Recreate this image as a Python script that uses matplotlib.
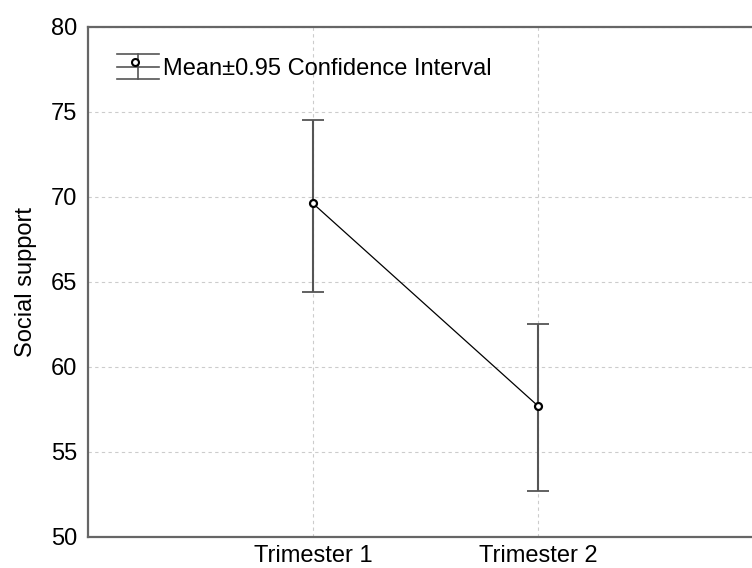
import matplotlib
matplotlib.use('Agg')
import matplotlib.pyplot as plt
from matplotlib.legend_handler import HandlerBase
from matplotlib.lines import Line2D

# Data
groups = ['Trimester 1', 'Trimester 2']
means = [69.6, 57.7]
ci_low = [64.4, 52.7]
ci_high = [74.5, 62.5]

plt.rcParams['font.family'] = ['Liberation Sans', 'DejaVu Sans']

ERR_COLOR = '#555555'
FONT_SIZE = 17


class CIHandler(HandlerBase):
    """Legend key: mean marker with a confidence-interval whisker and caps."""

    def create_artists(self, legend, orig_handle, xdescent, ydescent,
                       width, height, fontsize, trans):
        x0 = -xdescent
        x1 = x0 + width
        xm = (x0 + x1) / 2
        ym = -ydescent + height / 2
        h = height
        arts = [
            Line2D([x0, x1], [ym, ym], color=ERR_COLOR, lw=1.2),
            Line2D([x0, x1], [ym + h / 2] * 2, color=ERR_COLOR, lw=1.2),
            Line2D([x0, x1], [ym - h / 2] * 2, color=ERR_COLOR, lw=1.2),
            Line2D([xm, xm], [ym - h / 2, ym + h / 2], color=ERR_COLOR, lw=1.2),
            Line2D([xm - 2], [ym + 3], marker='o', ms=5, mfc='white',
                   mec='black', mew=1.5, ls='none'),
        ]
        for a in arts:
            a.set_transform(trans)
        return arts


fig = plt.figure(figsize=(7.52, 5.68), dpi=100)
ax = fig.add_axes([0.117, 0.0546, 0.883, 0.8987])

x = list(range(1, len(groups) + 1))
yerr = [[m - lo for m, lo in zip(means, ci_low)],
        [hi - m for m, hi in zip(means, ci_high)]]

ax.errorbar(x, means, yerr=yerr, fmt='none', ecolor=ERR_COLOR, elinewidth=1.5,
            capsize=8, capthick=1.3, zorder=3)
ax.plot(x, means, color='black', lw=0.9, marker='o', ms=5, mfc='white',
        mec='black', mew=1.6, zorder=4)

ax.set_xlim(0, 2.951)
ax.set_ylim(50, 80)
ax.set_xticks(x)
ax.set_xticklabels(groups)
ax.set_yticks(range(50, 81, 5))
ax.tick_params(length=0, labelsize=FONT_SIZE, colors='black')
ax.tick_params(axis='y', pad=8)
ax.tick_params(axis='x', pad=6)

ax.grid(True, color='#cccccc', lw=0.8, ls=(0, (3, 3)))
ax.set_axisbelow(True)

for side in ['left', 'bottom', 'top']:
    ax.spines[side].set_color('#666666')
    ax.spines[side].set_linewidth(1.6)
ax.spines['right'].set_visible(False)

ax.set_ylabel('Social support', fontsize=FONT_SIZE, labelpad=10)

handle = Line2D([], [])
ax.legend([handle], ['Mean±0.95 Confidence Interval'], handler_map={Line2D: CIHandler()},
          loc='center left', frameon=False, fontsize=FONT_SIZE, handlelength=1.78,
          handleheight=1.2, handletextpad=0.17, borderpad=0, borderaxespad=0,
          bbox_to_anchor=(117 / 752, 1 - 67 / 568), bbox_transform=fig.transFigure)

fig.savefig('out.png', dpi=100)
